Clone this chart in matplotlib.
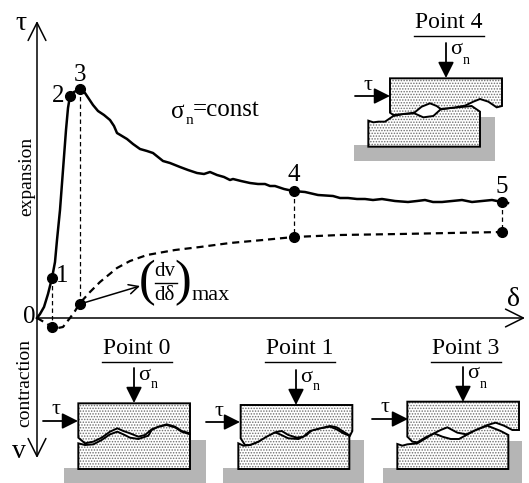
import numpy as np
import matplotlib.pyplot as plt
from matplotlib.patches import Polygon

plt.rcParams["font.family"] = ["Liberation Serif", "DejaVu Serif"]
plt.rcParams["hatch.linewidth"] = 0.7

# Curves, in image pixels
shear_x = [37, 40, 44, 48, 52, 55, 57, 60, 63, 66, 68, 70, 74, 80, 85, 89, 93, 98, 104, 110, 114, 117, 122, 127, 133,
           140, 147, 153, 158, 163, 170, 180, 188, 197, 204, 210, 217, 224, 230, 233, 241, 250, 258, 265, 270, 275,
           284, 293, 305, 318, 333, 340, 348, 357, 365, 373, 382, 395, 408, 417, 425, 433, 442, 452, 462, 472, 482,
           492, 502, 508]
shear_y = [318, 314, 307, 294, 278, 262, 240, 210, 170, 130, 108, 96, 92, 89, 93, 99, 105, 111, 115, 120, 126, 133, 136,
           139, 144, 149, 151, 153, 157, 161, 163, 167, 170, 173, 174, 172, 175, 177, 180, 179, 181, 183, 184, 184, 186,
           186, 189, 191, 192, 195, 196, 198, 198, 199, 199, 200, 199, 201, 202, 201, 200, 202, 202, 201, 200, 202, 201,
           200, 202, 203]
dil_x = [37, 44, 52, 58, 63, 66, 70, 75, 80, 90, 100, 117, 130, 147, 175, 200, 230, 263, 294, 340, 400, 450, 502]
dil_y = [318, 322, 327, 328, 327, 323, 318, 311, 303, 292, 282, 268, 261, 255, 250, 247, 243, 240, 237, 235, 234, 233,
         232]

point_x = [52, 70, 80, 294, 502]
point_y = [278, 96, 89, 191, 202]
low_x = [52, 80, 294, 502]
low_y = [327, 304, 237, 232]
point_labels = ["1", "2", "3", "4", "5"]
label_x = [62, 58, 80, 294, 502]
label_y = [276, 96, 75, 175, 187]

upper_0 = [(55, 25), (390, 25), (390, 115), (365, 108), (345, 95), (320, 88), (295, 95), (275, 103), (255, 120),
           (235, 125), (210, 115), (190, 108), (172, 100), (150, 110), (125, 128), (100, 140), (75, 145), (55, 128)]
lower_0 = [(55, 145), (75, 150), (100, 148), (125, 135), (150, 118), (172, 110), (190, 118), (210, 128), (235, 132),
           (265, 122), (275, 105), (295, 95), (320, 90), (345, 97), (365, 110), (390, 118), (390, 222), (55, 222)]
upper_1 = [(62, 30), (397, 30), (397, 108), (390, 122), (370, 110), (350, 97), (330, 93), (300, 100), (270, 108),
           (250, 125), (230, 128), (205, 120), (185, 108), (165, 112), (140, 125), (115, 140), (90, 150), (75, 150),
           (62, 130)]
lower_1 = [(55, 145), (70, 152), (90, 150), (115, 140), (140, 122), (165, 112), (180, 118), (205, 130), (235, 132),
           (260, 120), (275, 106), (300, 100), (330, 95), (350, 103), (370, 115), (388, 122), (388, 222), (55, 222)]
upper_3 = [(85, 20), (420, 20), (420, 105), (400, 105), (375, 92), (350, 83), (325, 90), (290, 105), (262, 118),
           (235, 113), (205, 97), (185, 105), (165, 115), (140, 127), (115, 142), (100, 140), (85, 125)]
lower_3 = [(55, 147), (70, 152), (85, 148), (115, 145), (140, 130), (165, 115), (190, 125), (215, 132), (240, 132),
           (262, 120), (290, 105), (325, 92), (340, 98), (365, 108), (388, 120), (388, 222), (55, 222)]
upper_4 = [(120, 25), (456, 25), (456, 108), (440, 112), (415, 95), (390, 87), (370, 95), (345, 107), (310, 113),
           (272, 117), (260, 108), (240, 100), (215, 110), (193, 128), (160, 132), (130, 135), (120, 128)]
lower_4 = [(55, 152), (70, 157), (85, 155), (105, 155), (130, 138), (160, 132), (193, 130), (220, 142), (250, 138),
           (272, 118), (310, 113), (345, 110), (365, 108), (390, 125), (390, 230), (55, 230)]


def px(points, x0, y0):
    return [(x0 + x / 3, y0 + y / 3) for x, y in points]


def arrow(ax, start, end, style="-|>", scale=24, lw=1.3):
    ax.annotate("", xy=end, xytext=start,
                arrowprops=dict(arrowstyle=style, mutation_scale=scale, lw=lw, color="black",
                                shrinkA=0, shrinkB=0, fc="black"))


def block(ax, outline, x0, y0, z):
    # hatch in gray first, black outline on top, so the dots stay lighter than the edge
    ax.add_patch(Polygon(px(outline, x0, y0), fc="white", ec="#6e6e6e", lw=0, hatch="......", zorder=z))
    ax.add_patch(Polygon(px(outline, x0, y0), fc="none", ec="black", lw=1.4, zorder=z))


def specimen(ax, upper, lower, x0, y0, gray, title, title_x, title_y, sigma_x, sigma_top, sigma_end, tau_y, tau_x,
             tau_end):
    # gray support: floor plus the wall to the right of the lower block
    gx0, gx1, gtop, gfloor, gbot = gray
    ax.add_patch(Polygon(px([(gx0, gfloor), (gx1 - 45, gfloor), (gx1 - 45, gtop), (gx1, gtop), (gx1, gbot), (gx0, gbot)],
                            x0, y0), fc="#b5b5b5", ec="none", zorder=1))
    block(ax, lower, x0, y0, 2)
    block(ax, upper, x0, y0, 3)
    ax.text(title_x, title_y, title, fontsize=17, ha="center", va="center")
    ax.plot([title_x - 35, title_x + 35], [title_y + 12.5, title_y + 12.5], color="black", lw=1)
    arrow(ax, (sigma_x, sigma_top), (sigma_x, sigma_end))
    ax.text(sigma_x + 10, sigma_top + 7, "σ", fontsize=16, ha="center", va="center")
    ax.text(sigma_x + 20, sigma_top + 17, "n", fontsize=10, ha="center", va="center")
    arrow(ax, (tau_x, tau_y), (tau_end, tau_y))
    ax.text(tau_x + 13, tau_y - 11, "τ", fontsize=16, ha="center", va="center")


fig = plt.figure(figsize=(5.29, 4.83), dpi=100)
ax = fig.add_axes([0, 0, 1, 1])
ax.set_xlim(0, 529)
ax.set_ylim(483, 0)
ax.axis("off")

# Axes
arrow(ax, (37, 318), (37, 21), "->", 32, 1.1)
arrow(ax, (37, 318), (37, 458), "->", 32, 1.1)
arrow(ax, (37, 318), (525, 318), "->", 32, 1.1)

# Curves
ax.plot(shear_x, shear_y, color="black", lw=1.8, zorder=4)
ax.plot(dil_x, dil_y, color="black", lw=1.6, dashes=(3.2, 2.2), zorder=4)
for x, ytop, ybot in zip(low_x, [278, 89, 191, 202], low_y):
    ax.plot([x, x], [ytop, ybot], color="black", lw=0.9, dashes=(3.5, 2.5), zorder=3)
ax.plot(point_x, point_y, "o", color="black", ms=7, zorder=5)
ax.plot(low_x, low_y, "o", color="black", ms=7, zorder=5)
for x, y, s in zip(label_x, label_y, point_labels):
    ax.text(x, y, s, fontsize=18, ha="center", va="center")

# Axis labels
ax.text(21, 24, "τ", fontsize=20, ha="center", va="center")
ax.text(19, 452, "v", fontsize=20, ha="center", va="center")
ax.text(514, 300, "δ", fontsize=20, ha="center", va="center")
ax.text(29, 317, "0", fontsize=18, ha="center", va="center")
ax.text(27, 176, "expansion", fontsize=14, rotation=90, ha="center", va="center")
ax.text(25, 383, "contraction", fontsize=14, rotation=90, ha="center", va="center")

# sigma_n = const
ax.text(178, 112, "σ", fontsize=18, ha="center", va="center")
ax.text(189, 121, "n", fontsize=11, ha="center", va="center")
ax.text(193, 110, "=const", fontsize=18, ha="left", va="center")

# (dv/d delta)max
arrow(ax, (80, 304), (140, 286), "->", 17, 1.1)
ax.text(147, 283, "(", fontsize=36, ha="center", va="center")
ax.text(183, 283, ")", fontsize=36, ha="center", va="center")
ax.text(164.5, 272, "dv", fontsize=15, ha="center", va="center")
ax.plot([155, 177], [283, 283], color="black", lw=1)
ax.text(164.5, 295, "dδ", fontsize=15, ha="center", va="center")
ax.text(210.5, 296, "max", fontsize=16, ha="center", va="center")

# Specimens
specimen(ax, upper_0, lower_0, 60, 395, (12, 437, 135, 220, 263), "Point 0", 137, 349, 134, 368, 403, 421, 43, 78)
specimen(ax, upper_1, lower_1, 220, 395, (10, 432, 135, 220, 263), "Point 1", 300, 349, 296, 370, 405, 422, 206, 240)
specimen(ax, upper_3, lower_3, 379, 395, (12, 430, 137, 220, 263), "Point 3", 466, 349, 463, 367, 402, 419, 372, 408)
specimen(ax, upper_4, lower_4, 350, 70, (12, 435, 142, 226, 272), "Point 4", 449, 23, 446, 43, 78, 96, 355, 390)

fig.savefig("out.png", dpi=100)
